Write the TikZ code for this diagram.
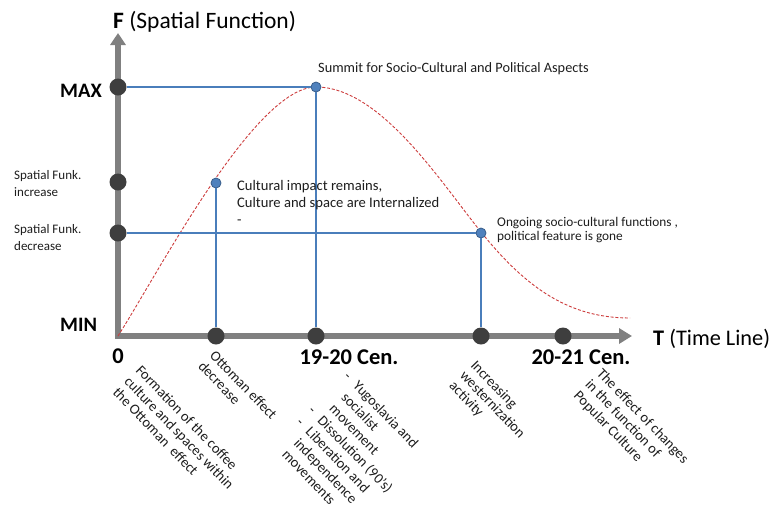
\documentclass[tikz,border=0pt]{standalone}
\usepackage{fontspec}
\setmainfont{Carlito}
\usetikzlibrary{arrows.meta}
\definecolor{axisgray}{RGB}{128,128,128}
\definecolor{dotdark}{RGB}{62,62,62}
\definecolor{guideblue}{RGB}{74,126,187}
\definecolor{bluefill}{RGB}{79,129,189}
\definecolor{blueedge}{RGB}{56,93,138}
\definecolor{curvered}{RGB}{205,60,60}
\definecolor{txt}{RGB}{30,30,30}
\newcommand\tl[1]{\begin{tabular}[t]{@{}l@{}}#1\end{tabular}}
\newcommand\bl[1]{\begin{tabular}[t]{@{}l@{\hspace{9pt}}l@{}}#1\end{tabular}}
\begin{document}
\begin{tikzpicture}[x=1pt,y=-1pt,
  axis/.style={axisgray, line width=6pt, line join=miter},
  blackdot/.style={circle, fill=dotdark, inner sep=0pt, minimum size=17pt},
  bluedot/.style={circle, fill=bluefill, draw=blueedge, line width=0.8pt, inner sep=0pt, minimum size=10pt},
  guide/.style={guideblue, line width=1.1pt},
  curve/.style={curvered, line width=0.9pt, dash pattern=on 3pt off 1.8pt},
  axislabel/.style={font=\fontsize{23.5}{27}\selectfont, inner sep=0pt, text=black},
  lvl/.style={font=\fontsize{20.5}{24}\selectfont\bfseries, inner sep=0pt, text=black},
  tick/.style={font=\fontsize{22.5}{26}\selectfont\bfseries, inner sep=0pt, text=black},
  small/.style={font=\fontsize{14.3}{17}\selectfont, inner sep=0pt, text=txt, anchor=base west},
  rot/.style={rotate=-46, anchor=base west, inner sep=0pt, text=txt,
    font=\fontsize{14.5}{16}\selectfont}
]
\fill[white] (0,0) rectangle (778,512);
\useasboundingbox (0,0) rectangle (778,512);

% axes
\coordinate (O) at (118,336);
\coordinate (ytip) at (118,33);
\coordinate (xtip) at (632,336);
\draw[axis, {Triangle[width=15pt,length=12pt]}-{Triangle[width=15pt,length=13pt]}] (ytip) -- (O) -- (xtip);

% black dots
\node[blackdot] (max) at (118,87) {};
\node[blackdot] (inc) at (118,182) {};
\node[blackdot] (dec) at (118,233) {};
\node[blackdot] (t1) at (216,336) {};
\node[blackdot] (t2) at (316,336) {};
\node[blackdot] (t3) at (481,336) {};
\node[blackdot] (t4) at (563,336) {};

% curve
\draw[curve] (118,336) .. controls (160,270) and (255,87) .. (316,87)
  .. controls (380,87) and (440,181) .. (481,232)
  .. controls (527,289) and (570,318) .. (630,318);

% blue dots
\node[bluedot] (p1) at (216,183) {};
\node[bluedot] (p2) at (316,87) {};
\node[bluedot] (p3) at (481,233) {};

% guide lines
\draw[guide] (max) -- (p2);
\draw[guide] (p2) -- (t2);
\draw[guide] (p1) -- (t1);
\draw[guide] (dec) -- (p3);
\draw[guide] (p3) -- (t3);

% axis titles
\node[axislabel, anchor=base west] (ft) at (113,28) {\textbf{F} (Spatial Function)};
\node[axislabel, font=\fontsize{22.3}{26}\selectfont, anchor=base west] (tt) at (653,345) {\textbf{T} (Time Line)};

% level labels
\node[lvl, anchor=base west] (maxl) at (60,97) {MAX};
\node[lvl, anchor=base west] (minl) at (60,331) {MIN};
\node[small, font=\fontsize{13}{17.5}\selectfont] (incl) at (14,179) {\tl{Spatial Funk.\\increase}};
\node[small, font=\fontsize{13}{17}\selectfont] (decl) at (14,233) {\tl{Spatial Funk.\\decrease}};

% tick labels
\node[tick, anchor=base] (z) at (118,363) {0};
\node[tick, anchor=base] (c1) at (349,364) {19-20 Cen.};
\node[tick, anchor=base] (c2) at (581,364) {20-21 Cen.};

% annotations
\node[small] (summit) at (318,72) {Summit for Socio-Cultural and Political Aspects};
\node[small, font=\fontsize{14.6}{17}\selectfont] (cult) at (237,190) {\tl{Cultural impact remains,\\Culture and space are Internalized\\-}};
\node[small, font=\fontsize{13.3}{14.5}\selectfont] (ongo) at (497,226) {\tl{Ongoing socio-cultural functions ,\\political feature is gone}};

% rotated labels
\node[rot] (r1) at (135,371) {\tl{Formation of the coffee\\culture and spaces within\\the Ottoman\ \ effect}};
\node[rot] (r2) at (209,356) {\tl{Ottoman effect\\decrease}};
\node[rot, font=\fontsize{14.5}{16.5}\selectfont] (r3) at (343,377) {\bl{- & Yugoslavia and\\ & socialist\\ & movement\\- & Dissolution (90's)\\- & Liberation and\\ & independence\\ & movements}};
\node[rot, font=\fontsize{14.5}{15}\selectfont] (r4) at (470,366) {\tl{Increasing\\westernization\\activity}};
\node[rot] (r5) at (596,374) {\tl{The effect of changes\\in the function of\\Popular Culture}};
\end{tikzpicture}
\end{document}
